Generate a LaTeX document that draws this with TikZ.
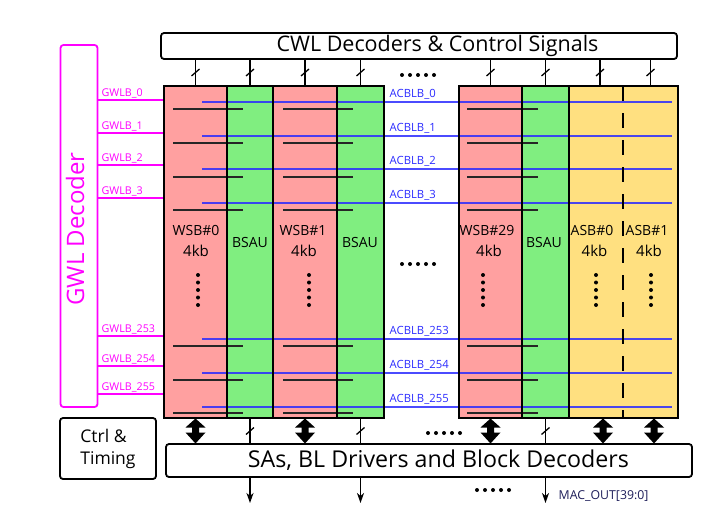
\documentclass[tikz,border=0pt]{standalone}
\usepackage{fontspec}
\setmainfont{Open Sans}
\usetikzlibrary{arrows.meta}
\definecolor{wsbpink}{HTML}{FFA0A0}
\definecolor{bsgreen}{HTML}{80EE80}
\definecolor{asbyel}{HTML}{FFE080}
\definecolor{magc}{HTML}{FF00FF}
\definecolor{acblue}{HTML}{2B2BFF}
\definecolor{navyc}{HTML}{1E1E5A}
\begin{document}
\begin{tikzpicture}[x=1pt,y=-1pt,
  col/.style={inner sep=0pt, outer sep=0pt, minimum height=332pt, anchor=north west},
  bord/.style={draw=black, line width=2pt},
  box/.style={draw=black, line width=1.8pt, rounded corners=3pt, inner sep=0pt, outer sep=0pt, anchor=north west},
  conn/.style={draw=black, line width=1.4pt},
  wl/.style={draw=black!85, line width=1.1pt},
  acl/.style={draw=acblue, line width=1.2pt, opacity=0.85},
  gw/.style={draw=magc, line width=1.6pt},
  gwlab/.style={text=magc, font=\fontsize{10.7}{12}\selectfont, inner sep=0pt, anchor=base west},
  aclab/.style={text=acblue, font=\fontsize{11.3}{13}\selectfont, inner sep=0pt, anchor=base west},
  coltext/.style={font=\fontsize{14}{16}\selectfont, inner sep=0pt},
  kbtext/.style={font=\fontsize{15}{17}\selectfont, inner sep=0pt},
  outarrow/.style={conn, -{Stealth[length=10pt,width=7pt,inset=3pt]}},
  pics/slash/.style={code={\draw[line width=1.3pt] (-4,3.5) -- (4,-3.5);}},
  pics/dblarr/.style={code={\fill[black] (0,0.5) -- (10,9.5) -- (3.5,9.5) -- (3.5,14.5) -- (10,14.5) -- (0,25.5) -- (-10,14.5) -- (-3.5,14.5) -- (-3.5,9.5) -- (-10,9.5) -- cycle;}},
  pics/vdots/.style={code={\foreach \k in {0,...,4} \fill[black] (0,7.5*\k) circle (2pt);}},
  pics/hdots/.style={code={\foreach \k in {0,...,4} \fill[black] (8*\k,0) circle (2pt);}}
]
\useasboundingbox (0,0) rectangle (723,519);

% top and bottom boxes
\node[box, minimum width=516pt, minimum height=26pt] (cwl) at (161,33) {};
\node[font=\fontsize{21.5}{24}\selectfont, inner sep=0pt, anchor=base] (cwltext) at (437.5,52) {CWL Decoders \& Control Signals};
\node[box, minimum width=526pt, minimum height=33pt] (sas) at (166,444) {};
\node[font=\fontsize{23.2}{26}\selectfont, inner sep=0pt, anchor=base] (sastext) at (438.5,467.5) {SAs, BL Drivers and Block Decoders};
\node[box, minimum width=96pt, minimum height=61pt, align=left, font=\fontsize{17.5}{22}\selectfont] (ctrl) at (60,418) {Ctrl \&\\Timing};

% GWL decoder
\node[draw=magc, line width=1.8pt, rounded corners=3pt, inner sep=0pt, outer sep=0pt, minimum width=37pt, minimum height=362pt, anchor=north west] (gwl) at (60.5,45) {};
\node[text=magc, rotate=90, font=\fontsize{24}{28}\selectfont, inner sep=0pt, anchor=base] (gwltext) at (84,229) {GWL Decoder};

% columns
\node[col, fill=wsbpink, minimum width=63pt] (w0) at (164,86) {};
\node[col, fill=bsgreen, minimum width=46pt] (b0) at (227,86) {};
\node[col, fill=wsbpink, minimum width=64pt] (w1) at (273,86) {};
\node[col, fill=bsgreen, minimum width=47pt] (b1) at (337,86) {};
\node[col, fill=wsbpink, minimum width=63pt] (w29) at (459,86) {};
\node[col, fill=bsgreen, minimum width=47pt] (b29) at (522,86) {};
\node[col, fill=asbyel, minimum width=54pt] (a0) at (569,86) {};
\node[col, fill=asbyel, minimum width=55pt] (a1) at (623,86) {};

% local word lines inside WSBs
\foreach \y in {109,143,177,210,346,380,413} {
  \draw[wl] (173,\y) -- (243,\y);
  \draw[wl] (283,\y) -- (353,\y);
  \draw[wl] (467,\y) -- (538,\y);
}

% ACBLB lines
\foreach \y/\n in {102/0,136/1,169/2,203/3,339/253,373/254,407/255} {
  \draw[acl] (202,\y) -- (672,\y);
  \node[aclab] at (389.5,\y-4.5) {ACBLB\_\n};
}

% GWLB lines
\foreach \y/\n in {100/0,133/1,165/2,198/3,336/253,366/254,394/255} {
  \coordinate (gy) at (0,\y);
  \draw[gw] (gwl.east |- gy) -- (w0.west |- gy);
  \node[gwlab] at (101.5,\y-3.5) {GWLB\_\n};
}

% borders
\foreach \n in {w0,b0,w1,b1,w29,b29} \draw[bord] (\n.north west) rectangle (\n.south east);
\draw[bord] (a0.north west) rectangle (a1.south east);
\draw[line width=2pt, dash pattern=on 15pt off 12pt] (a1.north west) -- (a1.south west);

% column texts
\node[coltext] at (196,230) {WSB\#0};
\node[kbtext] at (196,251) {4kb};
\node[coltext] at (250,242) {BSAU};
\node[coltext] at (303,230) {WSB\#1};
\node[kbtext] at (304,251) {4kb};
\node[coltext] at (360,242) {BSAU};
\node[coltext] at (487,230) {WSB\#29};
\node[kbtext] at (489,251) {4kb};
\node[coltext] at (544,242) {BSAU};
\node[coltext] at (592,230) {ASB\#0};
\node[kbtext] at (594.5,251) {4kb};
\node[coltext] at (647,230) {ASB\#1};
\node[kbtext] at (649,251) {4kb};

% vertical dots
\pic at (198,275) {vdots};
\pic at (309,275) {vdots};
\pic at (483,275) {vdots};
\pic at (596,275) {vdots};
\pic at (651,275) {vdots};

% horizontal ellipses
\pic at (402,75) {hdots};
\pic at (402,264) {hdots};
\pic at (428,433) {hdots};
\pic at (477,490) {hdots};

% top buses
\foreach \n in {w0,b0,w1,b1,w29,b29,a1}
  \draw[conn] (\n.north |- cwl.south) -- (\n.north) pic[pos=0.5] {slash};
\draw[conn] ([xshift=4pt]a0.north |- cwl.south) -- ([xshift=4pt]a0.north) pic[pos=0.5] {slash};

% bottom bidirectional arrows
\pic at (w0.south) {dblarr};
\pic at (w1.south) {dblarr};
\pic at (w29.south) {dblarr};
\pic at ([xshift=7pt]a0.south) {dblarr};
\pic at ([xshift=3.5pt]a1.south) {dblarr};

% BSAU buses and outputs
\coordinate (outy) at (0,503);
\foreach \n in {b0,b1,b29} {
  \draw[conn] (\n.south) -- (\n.south |- sas.north) pic[pos=0.5] {slash};
  \draw[outarrow] (\n.south |- sas.south) -- (\n.south |- outy);
}
\node[text=navyc, font=\fontsize{12.3}{14}\selectfont, inner sep=0pt, anchor=base west] (macout) at (558.5,499.5) {MAC\_OUT[39:0]};
\end{tikzpicture}
\end{document}
